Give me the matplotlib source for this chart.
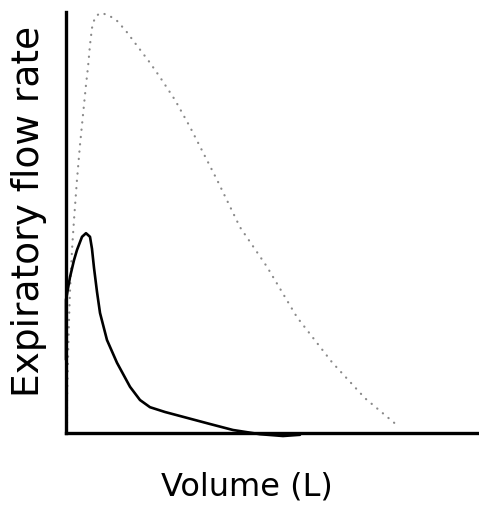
import matplotlib
matplotlib.use("Agg")
import matplotlib.pyplot as plt

# Dotted curve (normal loop): volume (L), expiratory flow
normal_volume = [0.017, 0.017, 0.033, 0.05, 0.067, 0.10, 0.133, 0.183, 0.233, 0.283, 0.333, 0.367, 0.40, 0.433, 0.483,
                 0.567, 0.70, 0.85, 1.00, 1.15, 1.40, 1.567, 1.817, 2.067, 2.517, 2.90, 3.35, 3.85, 4.433, 4.983, 5.517]
normal_flow   = [0.05, 0.55, 1.22, 1.88, 2.38, 3.05, 3.55, 4.22, 4.80, 5.30, 5.80, 6.10, 6.47, 6.75, 6.93,
                 7.00, 6.97, 6.87, 6.70, 6.50, 6.17, 5.93, 5.55, 5.10, 4.22, 3.43, 2.77, 1.93, 1.18, 0.58, 0.13]

# Solid curve (obstructive loop)
obstr_volume = [0.0, 0.0, 0.067, 0.133, 0.183, 0.267, 0.333, 0.40, 0.433, 0.467, 0.517, 0.567, 0.683, 0.85, 1.067,
                1.233, 1.40, 1.65, 1.95, 2.40, 2.783, 3.233, 3.617, 3.90]
obstr_flow   = [1.22, 2.22, 2.60, 2.88, 3.05, 3.27, 3.33, 3.27, 3.07, 2.75, 2.35, 2.00, 1.55, 1.17, 0.77,
                0.55, 0.43, 0.35, 0.27, 0.15, 0.05, -0.02, -0.05, -0.03]

x_label = "Volume (L)"
y_label = "Expiratory flow rate"

fig = plt.figure(figsize=(4.79, 5.07), dpi=100)
ax = fig.add_axes([66/479, (507-433)/507, 413/479, 421/507])

ax.plot(normal_volume, normal_flow, linestyle=(0, (0.1, 3.2)), color="#8a8a8a", lw=1.6,
        clip_on=False, dash_capstyle="round")
ax.plot(obstr_volume, obstr_flow, color="black", lw=1.9, clip_on=False,
        solid_joinstyle="round", solid_capstyle="round")

ax.set_xlim(0, 413/60)
ax.set_ylim(0, 421/60)
for s in ["top", "right"]:
    ax.spines[s].set_visible(False)
for s in ["left", "bottom"]:
    ax.spines[s].set_linewidth(2.4)
    ax.spines[s].set_color("black")
ax.set_xticks([])
ax.set_yticks([])

fig.text(247/479, 1 - 487/507, x_label, fontsize=23, ha="center", va="center")
fig.text(29/479, 1 - 211/507, y_label, fontsize=27, ha="center", va="center", rotation=90)

fig.savefig("out.png", dpi=100)
